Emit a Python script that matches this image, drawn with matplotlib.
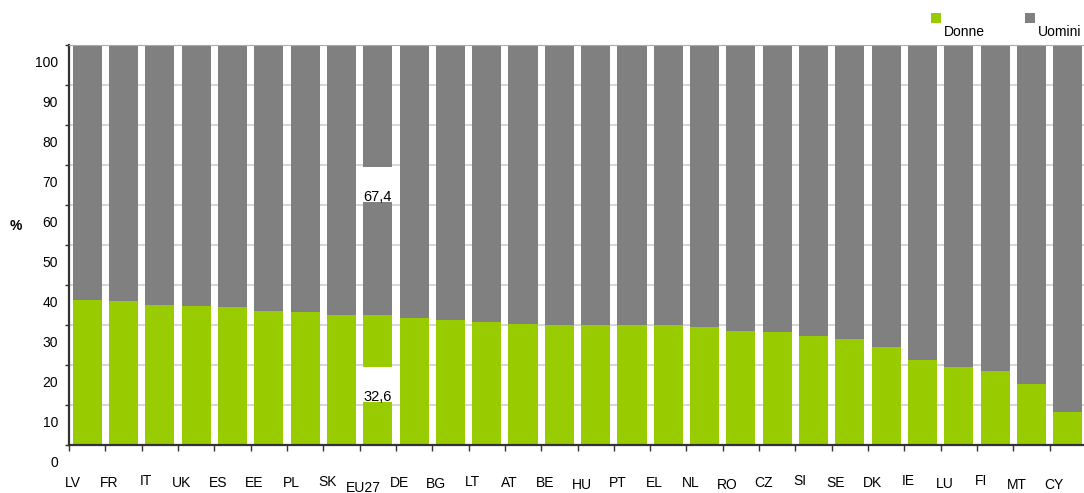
import numpy as np
import matplotlib.pyplot as plt
import matplotlib.transforms as mtransforms
from matplotlib.patches import Rectangle

plt.rcParams['font.family'] = ['Liberation Sans', 'DejaVu Sans']

paesi = ['LV', 'FR', 'IT', 'UK', 'ES', 'EE', 'PL', 'SK', 'EU27', 'DE', 'BG', 'LT',
         'AT', 'BE', 'HU', 'PT', 'EL', 'NL', 'RO', 'CZ', 'SI', 'SE', 'DK', 'IE',
         'LU', 'FI', 'MT', 'CY']
donne = [36.3, 36.0, 35.0, 34.8, 34.5, 33.5, 33.3, 32.5, 32.6, 31.8, 31.3, 30.8,
         30.3, 30.0, 30.0, 30.0, 30.0, 29.5, 28.5, 28.3, 27.3, 26.5, 24.5, 21.3,
         19.5, 18.5, 15.3, 8.3]
uomini = [round(100 - d, 1) for d in donne]

# label shift (pixels, + = down) copied from the reference rendering
shift_x = {'IT': -2, 'SI': -2, 'IE': -2, 'FI': -2, 'SK': -1, 'LT': -1,
           'EU27': 5, 'HU': 2, 'RO': 2, 'MT': 2, 'CY': 2, 'BG': 1, 'LU': 1}

verde = '#99cc00'
grigio = '#808080'

fig = plt.figure(figsize=(10.84, 4.93), dpi=100, facecolor='white')
ax = fig.add_axes([69 / 1084, 1 - 445 / 493, 1017 / 1084, 400 / 493])

x = np.arange(len(paesi))
ax.bar(x, donne, width=0.8, color=verde, zorder=2)
ax.bar(x, uomini, width=0.8, bottom=donne, color=grigio, zorder=2)

# EU27 data labels with white boxes
i = paesi.index('EU27')
d, u = donne[i], uomini[i]
for mid, val in [(d / 2, d), (d + u / 2, u)]:
    ax.add_patch(Rectangle((i - 0.45, mid - 5.6), 0.9, 8.8, facecolor='white',
                           edgecolor='none', zorder=3))
    ax.text(i, mid - 4.3, ('%.1f' % val).replace('.', ','), ha='center',
            va='center', fontsize=10.5, color='black', zorder=4)

ax.set_xlim(-0.5, len(paesi) - 0.5)
ax.set_ylim(0, 100)
ax.set_yticks(np.arange(0, 101, 10))
ax.yaxis.grid(True, color='#d6d6d6', linewidth=1.4, zorder=0)
ax.set_axisbelow(True)

ax.set_xticks(x - 0.39)
ax.set_xticklabels(paesi, fontsize=10)
ax.set_xticks(np.arange(-0.5, len(paesi), 1), minor=True)
ax.tick_params(axis='x', which='major', length=0, pad=22)
ax.tick_params(axis='x', which='minor', length=4, width=1, color='#333333',
               direction='out')
ax.tick_params(axis='y', length=3, width=1, pad=5, labelsize=10, color='#333333')

for lab in ax.get_xticklabels():
    dy = shift_x.get(lab.get_text(), 0)
    lab.set_transform(lab.get_transform() +
                      mtransforms.ScaledTranslation(0, -dy / 100, fig.dpi_scale_trans))
for lab in ax.get_yticklabels():
    lab.set_transform(lab.get_transform() +
                      mtransforms.ScaledTranslation(0, -16.5 / 100, fig.dpi_scale_trans))

ax.spines['right'].set_visible(False)
ax.spines['top'].set_color('#aaaaaa')
ax.spines['left'].set_color('#333333')
ax.spines['left'].set_linewidth(1.6)
ax.spines['bottom'].set_color('#333333')
ax.spines['bottom'].set_linewidth(1.6)

fig.text(16 / 1084, 1 - 226 / 493, '%', fontsize=10, fontweight='bold',
         ha='center', va='center')

# legend
fig.patches.append(Rectangle((931 / 1084, 1 - 23 / 493), 10 / 1084, 10 / 493,
                             facecolor=verde, edgecolor='none',
                             transform=fig.transFigure, figure=fig))
fig.text(944 / 1084, 1 - 32.5 / 493, 'Donne', fontsize=10, va='center')
fig.patches.append(Rectangle((1025 / 1084, 1 - 23 / 493), 10 / 1084, 10 / 493,
                             facecolor=grigio, edgecolor='none',
                             transform=fig.transFigure, figure=fig))
fig.text(1038 / 1084, 1 - 32.5 / 493, 'Uomini', fontsize=10, va='center')

fig.savefig('out.png', dpi=100)
